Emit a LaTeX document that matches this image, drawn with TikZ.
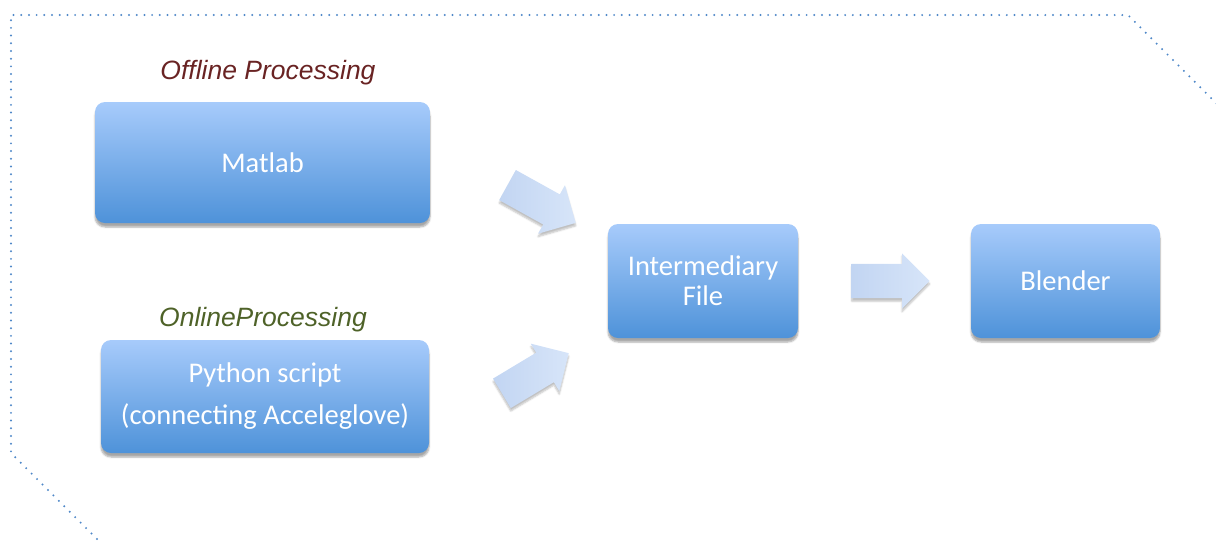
\documentclass[tikz,border=0pt]{standalone}
\usepackage{fontspec}
\usetikzlibrary{shapes.arrows,shadows.blur,calc}
\newfontfamily\boxfont{Carlito}
\newfontfamily\labelfont{Liberation Sans}
\definecolor{boxtop}{HTML}{A7CBFB}
\definecolor{boxbottom}{HTML}{4E92D9}
\definecolor{arrowleft}{HTML}{C2D5F2}
\definecolor{arrowright}{HTML}{D7E5F9}
\definecolor{frameblue}{HTML}{4F88C8}
\definecolor{offred}{HTML}{692323}
\definecolor{ongreen}{HTML}{4E6228}

\tikzset{
  procbox/.style={rectangle, rounded corners=10pt, top color=boxtop, bottom color=boxbottom,
    draw=none, text=white, align=center, inner sep=0pt,
    font=\boxfont\fontsize{28.5}{30}\selectfont,
    blur shadow={shadow xshift=0pt, shadow yshift=-4pt, shadow blur steps=6, shadow opacity=35}},
  steplabel/.style={font=\labelfont\itshape\fontsize{26.5}{30}\selectfont},
  flowarrow/.style={single arrow, draw=none, inner xsep=0pt, inner ysep=17pt,
    minimum height=78pt, minimum width=55pt, single arrow head extend=10.5pt,
    left color=arrowleft, right color=arrowright, anchor=tip,
    blur shadow={shadow xshift=0pt, shadow yshift=-3pt, shadow blur steps=5, shadow opacity=25}}
}

\begin{document}
\begin{tikzpicture}[x=1pt,y=-1pt]
  \useasboundingbox (0,0) rectangle (1216,542);

  % dotted frame
  \draw [frameblue, line width=2.2pt, line cap=round, dash pattern=on 0pt off 7.7pt]
    (1222,109) -- (1128,15) -- (11,15) -- (11,453) -- (100,542);

  % boxes
  \node[procbox, minimum width=335pt, minimum height=121pt] (matlab) at (262.5,162.5) {Matlab};
  \node[procbox, minimum width=328pt, minimum height=113pt,
        font=\boxfont\fontsize{28.5}{42}\selectfont] (python) at (265,396.5)
        {Python script\\(connecting Acceleglove)};
  \node[procbox, minimum width=190pt, minimum height=114pt] (inter) at (703,281) {Intermediary\\File};
  \node[procbox, minimum width=189pt, minimum height=114pt] (blender) at (1065.5,281) {Blender};

  % labels
  \node[steplabel, text=offred] (offline) at (268,73) {Offline Processing};
  \node[steplabel, text=ongreen] (online) at (263,320) {OnlineProcessing};

  % block arrows (placed by their tips)
  \node[flowarrow, rotate=-29] (arrA) at (576,223) {};
  \node[flowarrow, rotate=31] (arrB) at (569,353) {};
  \node[flowarrow] (arrC) at (930,281) {};
\end{tikzpicture}
\end{document}
